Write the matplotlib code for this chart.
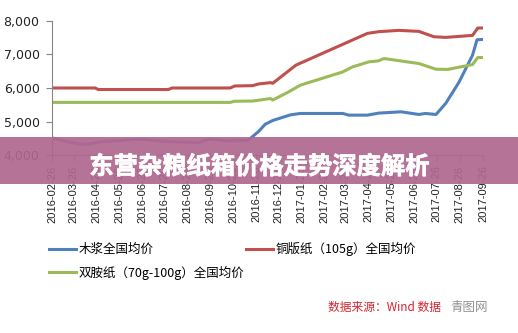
import pandas as pd
import matplotlib.pyplot as plt
import matplotlib.ticker as mticker
import matplotlib.patheffects as pe
from matplotlib.patches import Rectangle

plt.rcParams['font.family'] = ['Noto Sans CJK SC', 'DejaVu Sans']

# Data
pulp_dates = ["2016-02-26", "2016-03-05", "2016-03-21", "2016-04-04", "2016-04-14",
              "2016-05-01", "2016-05-27", "2016-06-23", "2016-07-13", "2016-08-03",
              "2016-09-09", "2016-09-23", "2016-10-22", "2016-11-15", "2016-11-29",
              "2016-12-08", "2016-12-18", "2017-01-11", "2017-01-24", "2017-03-22",
              "2017-03-30", "2017-04-24", "2017-05-09", "2017-06-08", "2017-07-02",
              "2017-07-11", "2017-07-25", "2017-08-07", "2017-08-25", "2017-09-12",
              "2017-09-18", "2017-09-26"]
pulp_values = [4510, 4470, 4380, 4330, 4320,
               4400, 4430, 4470, 4430, 4400,
               4370, 4470, 4420, 4440, 4700,
               4920, 5030, 5200, 5240, 5240,
               5190, 5190, 5250, 5290, 5210,
               5240, 5210, 5540, 6180, 6980,
               7440, 7450]

coated_dates = ["2016-02-26", "2016-04-24", "2016-04-28", "2016-07-31", "2016-08-05",
                "2016-10-22", "2016-10-28", "2016-11-21", "2016-11-29", "2016-12-15",
                "2016-12-18", "2017-01-18", "2017-01-24", "2017-04-24", "2017-05-09",
                "2017-06-05", "2017-07-02", "2017-07-22", "2017-08-07", "2017-09-12",
                "2017-09-19", "2017-09-26"]
coated_values = [6000, 6000, 5955, 5955, 6000,
                 6000, 6060, 6070, 6120, 6160,
                 6140, 6680, 6740, 7630, 7680,
                 7720, 7690, 7530, 7510, 7570,
                 7790, 7790]

offset_dates = ["2016-02-26", "2016-10-22", "2016-10-28", "2016-11-21", "2016-12-15",
                "2016-12-18", "2017-01-08", "2017-01-24", "2017-03-22", "2017-04-04",
                "2017-04-26", "2017-05-09", "2017-05-16", "2017-07-02", "2017-07-25",
                "2017-08-10", "2017-08-27", "2017-09-12", "2017-09-19", "2017-09-26"]
offset_values = [5570, 5570, 5605, 5610, 5685,
                 5640, 5880, 6085, 6480, 6630,
                 6780, 6810, 6880, 6730, 6560,
                 6555, 6630, 6700, 6910, 6910]

tick_labels = ["2016-02-26", "2016-03-26", "2016-04-26", "2016-05-26", "2016-06-26",
               "2016-07-26", "2016-08-26", "2016-09-26", "2016-10-26", "2016-11-26",
               "2016-12-26", "2017-01-26", "2017-02-26", "2017-03-26", "2017-04-26",
               "2017-05-26", "2017-06-26", "2017-07-26", "2017-08-26", "2017-09-26"]

series_names = ["木浆全国均价", "双胺纸（70g-100g）全国均价", "铜版纸（105g）全国均价"]
colors = ["#4F81BD", "#9BBB59", "#C0504D"]

fig = plt.figure(figsize=(5.18, 3.33), dpi=100)
ax = fig.add_axes([0.1004, 0.5345, 0.832, 0.4025])

ax.plot(pd.to_datetime(pulp_dates), pulp_values, color=colors[0], lw=2.2, label=series_names[0])
ax.plot(pd.to_datetime(offset_dates), offset_values, color=colors[1], lw=2.2, label=series_names[1])
ax.plot(pd.to_datetime(coated_dates), coated_values, color=colors[2], lw=2.2, label=series_names[2])

ax.set_xlim(pd.Timestamp(tick_labels[0]), pd.Timestamp(tick_labels[-1]))
ax.set_ylim(4000, 8000)
ax.set_yticks([4000, 5000, 6000, 7000, 8000])
ax.yaxis.set_major_formatter(mticker.FuncFormatter(lambda v, p: f"{int(v):,}"))
ax.set_xticks(pd.to_datetime(tick_labels))
ax.set_xticklabels(tick_labels, rotation=90, family="Liberation Sans", fontsize=8)
for lbl in ax.get_yticklabels():
    lbl.set_family("DejaVu Sans")
    lbl.set_fontsize(9)

for s in ["top", "right"]:
    ax.spines[s].set_visible(False)
for s in ["left", "bottom"]:
    ax.spines[s].set_color("#868686")
ax.tick_params(axis="both", colors="#868686", labelcolor="#222222", length=4, width=0.8)
ax.tick_params(axis="y", pad=5)

leg = fig.legend(loc="upper left", bbox_to_anchor=(0.072, 0.307), ncol=2, frameon=False,
                 fontsize=9, handlelength=2.2, handletextpad=0.2, columnspacing=0.1,
                 labelspacing=0.75)

# banner over the chart
fig.patches.append(Rectangle((0, 1 - 184 / 333), 1, 47 / 333, transform=fig.transFigure,
                             facecolor="#B0678F", alpha=0.92, edgecolor="none", zorder=10))
fig.text(0.5, 1 - 167 / 333, "东营杂粮纸箱价格走势深度解析", ha="center", va="center",
         color="white", fontsize=17.5, fontweight="bold", zorder=11,
         path_effects=[pe.withStroke(linewidth=0.5, foreground="white")])

# source note
fig.text(0.633, 1 - 307 / 333, "数据来源：Wind 数据", color="#D8222C", fontsize=8.5,
         style="italic", va="center")
fig.text(0.87, 1 - 308 / 333, "青图网", color="#777777", fontsize=9, va="center", alpha=0.8)

plt.savefig("out.png", dpi=100)
